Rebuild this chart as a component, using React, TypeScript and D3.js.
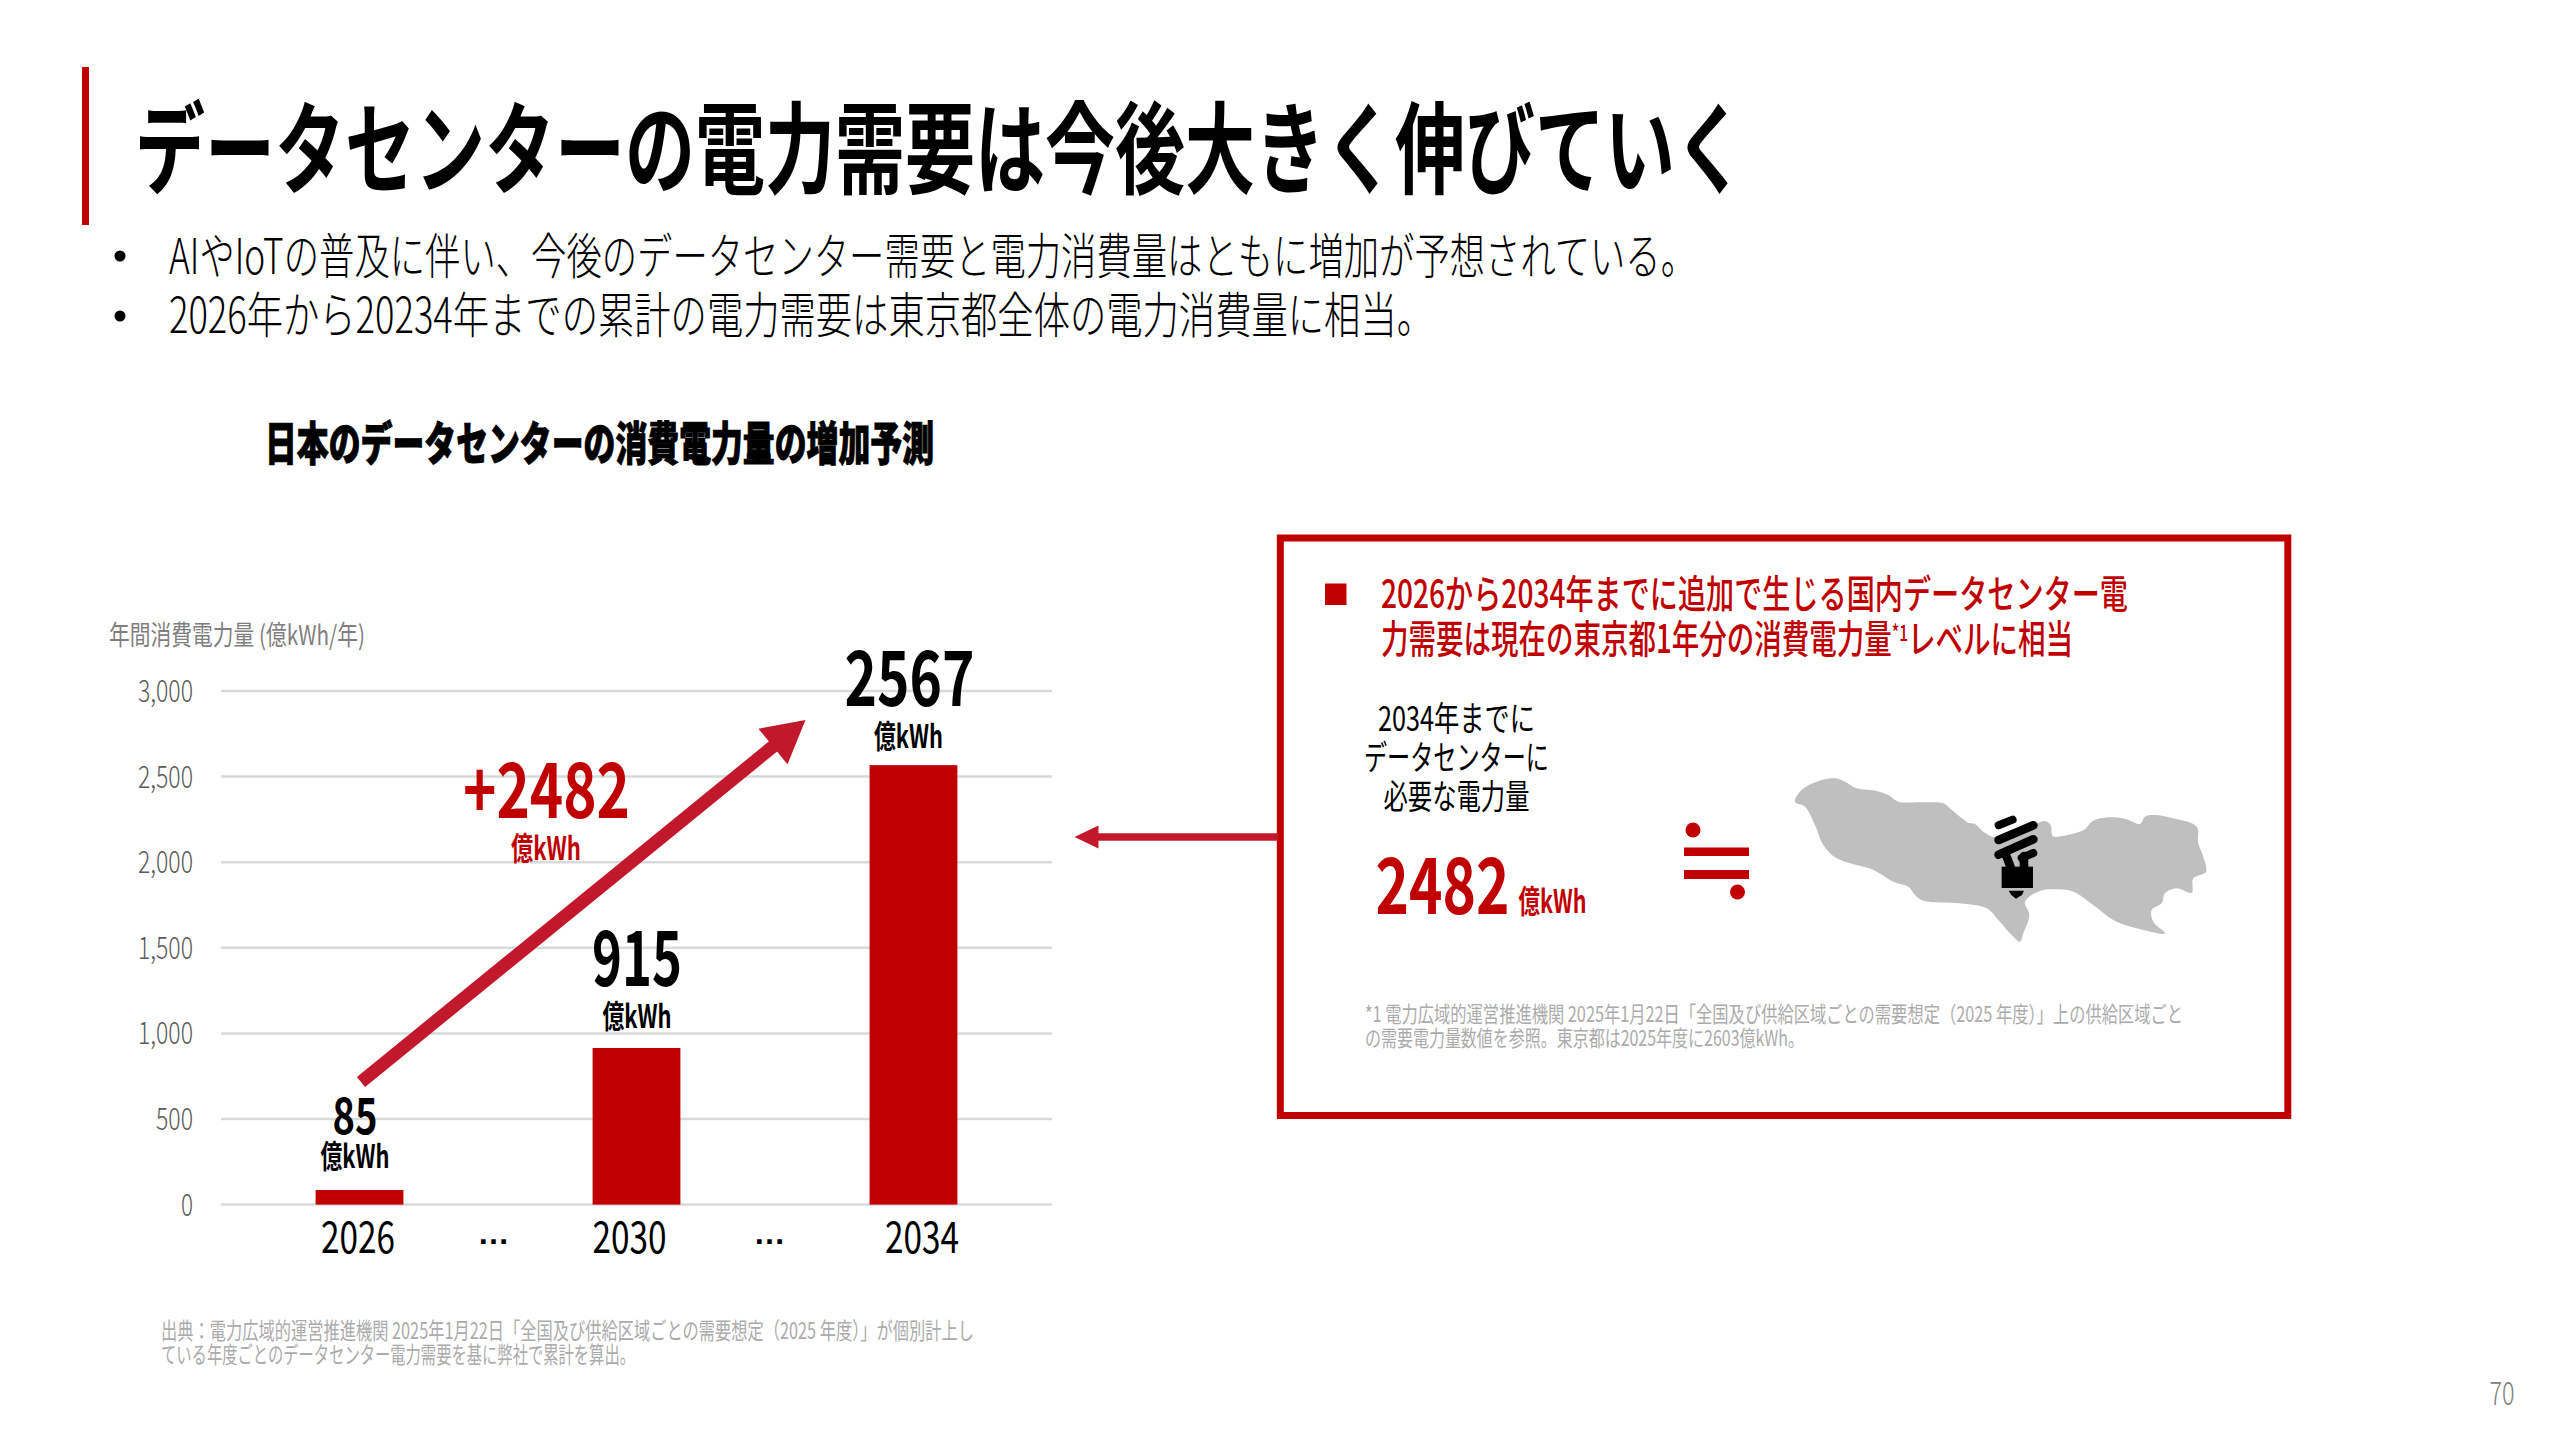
import React from "react";
import * as d3 from "d3";

const years = ["2026", "2030", "2034"];
const demand = [85, 915, 2567];
const yTicks = [0, 500, 1000, 1500, 2000, 2500, 3000];
const yearLabelX = [358, 629.5, 922];
const valueLabelMeta = [
  { cx: 355, w: 45, size: 50, base: 1134, unitCx: 355, unitBase: 1168 },
  { cx: 637, w: 90, size: 76, base: 986, unitCx: 637, unitBase: 1028 },
  { cx: 909.5, w: 130, size: 76, base: 706, unitCx: 908.5, unitBase: 748 },
];
const titleText = "データセンターの電力需要は今後大きく伸びていく";
const bullets = [
  "AIやIoTの普及に伴い、今後のデータセンター需要と電力消費量はともに増加が予想されている。",
  "2026年から20234年までの累計の電力需要は東京都全体の電力消費量に相当。",
];
const chartTitle = "日本のデータセンターの消費電力量の増加予測";
const axisTitle = "年間消費電力量 (億kWh/年)";
const unit = "億kWh";
const increase = "+2482";
const sourceLines = [
  "出典：電力広域的運営推進機関 2025年1月22日「全国及び供給区域ごとの需要想定（2025 年度）」が個別計上し",
  "ている年度ごとのデータセンター電力需要を基に弊社で累計を算出。",
];
const boxNoteLines = [
  "*1 電力広域的運営推進機関 2025年1月22日「全国及び供給区域ごとの需要想定（2025 年度）」上の供給区域ごと",
  "の需要電力量数値を参照。東京都は2025年度に2603億kWh。",
];
const tokyoOutline: [number, number][] = [
  [105,125],[125,90],[170,65],[225,55],[255,65],[290,85],[345,92],[385,105],[415,125],[480,127],[550,130],[575,150],[610,178],[625,188],[645,192],[670,215],[705,232],[760,215],[830,190],[855,183],[872,195],[878,228],[895,230],[975,208],[990,190],[1010,178],[1060,172],[1100,178],[1140,192],[1155,170],[1180,165],[1240,175],[1310,200],[1315,250],[1330,290],[1338,335],[1300,355],[1295,398],[1250,385],[1215,400],[1205,430],[1175,450],[1180,485],[1215,520],[1130,505],[1060,480],[1000,435],[940,395],[890,388],[840,393],[795,425],[808,465],[790,520],[780,545],[755,525],[715,480],[680,445],[600,430],[490,422],[465,405],[445,380],[400,365],[340,330],[230,295],[190,255],[165,195],[135,140],
];

const RED = "#c00000";
const ARROW = "#c2182b";
const NOTE = "#ababab";
const FONT = "'Noto Sans CJK JP', sans-serif";

type TP = {
  x: number; y: number; w: number; size: number; fill?: string; weight?: number;
  anchor?: "start" | "middle" | "end"; stroke?: number; children: React.ReactNode;
};
function T({ x, y, w, size, fill = "#000", weight = 400, anchor = "start", stroke = 0, children }: TP) {
  return (
    <text x={x} y={y} fontSize={size} fontFamily={FONT} fontWeight={weight} fill={fill} textAnchor={anchor}
      textLength={w} lengthAdjust="spacingAndGlyphs"
      stroke={stroke ? fill : undefined} strokeWidth={stroke || undefined}>
      {children}
    </text>
  );
}

function Arrow({ x1, y1, x2, y2, width, headLen, headWidth }: { x1: number; y1: number; x2: number; y2: number; width: number; headLen: number; headWidth: number }) {
  const a = Math.atan2(y2 - y1, x2 - x1);
  const ux = Math.cos(a), uy = Math.sin(a);
  const bx = x2 - ux * headLen, by = y2 - uy * headLen;
  const head = [[x2, y2], [bx - uy * headWidth / 2, by + ux * headWidth / 2], [bx + uy * headWidth / 2, by - ux * headWidth / 2]];
  return (
    <g fill={ARROW}>
      <line x1={x1} y1={y1} x2={bx + ux} y2={by + uy} stroke={ARROW} strokeWidth={width} />
      <polygon points={head.map((p) => p.join(",")).join(" ")} />
    </g>
  );
}

export default function App() {
  const x = d3.scaleBand<string>().domain(years).range([221, 1052]).paddingInner(0.683).paddingOuter(0.3415);
  const y = d3.scaleLinear().domain([0, 3000]).range([1204.6, 691]);
  const fmt = d3.format(",");
  const outline = d3.line().curve(d3.curveCatmullRomClosed.alpha(0.5))(tokyoOutline) || "";

  return (
    <svg width={2560} height={1440} viewBox="0 0 2560 1440"
      style={{ position: "absolute", left: 0, top: 0, display: "block", background: "#fff" }}>
      <rect x={0} y={0} width={2560} height={1440} fill="#fff" />
      <rect x={82} y={67} width={7} height={158} fill={RED} />
      <T x={135} y={186} w={1610} size={100} weight={700}>{titleText}</T>

      <circle cx={120} cy={256} r={5.5} fill="#000" />
      <circle cx={120} cy={316} r={5.5} fill="#000" />
      <T x={169} y={274} w={1527} size={49} weight={300}>{bullets[0]}</T>
      <T x={169} y={333} w={1264} size={49} weight={300}>{bullets[1]}</T>

      <T x={265} y={460} w={669} size={46} weight={900} stroke={1}>{chartTitle}</T>

      <T x={109} y={645} w={256} size={27} fill="#7f7f7f">{axisTitle}</T>

      {yTicks.map((t) => {
        const s = fmt(t);
        return (
          <g key={t}>
            <line x1={221} x2={1052} y1={y(t)} y2={y(t)} stroke="#d9d9d9" strokeWidth={2.5} />
            <T x={193} y={y(t) + 11} w={s.length === 5 ? 55 : s.length === 3 ? 37 : 12} size={31} weight={300} anchor="end" fill="#595959">{s}</T>
          </g>
        );
      })}

      {years.map((yr, i) => (
        <rect key={yr} x={x(yr)} y={y(demand[i])} width={x.bandwidth()} height={y(0) - y(demand[i])} fill={RED} />
      ))}

      {years.map((yr, i) => {
        const m = valueLabelMeta[i];
        return (
          <g key={yr}>
            <T x={m.cx} y={m.base} w={m.w} size={m.size} weight={700} anchor="middle">{String(demand[i])}</T>
            <T x={m.unitCx} y={m.unitBase} w={69} size={32} weight={700} anchor="middle">{unit}</T>
            <T x={yearLabelX[i]} y={1253} w={74} size={44} anchor="middle">{yr}</T>
          </g>
        );
      })}
      {[493.5, 769.5].map((cx) => (
        <text key={cx} x={cx} y={1244} fontFamily="'Liberation Sans', sans-serif" fontWeight={700} fontSize={32} textAnchor="middle" fill="#000">…</text>
      ))}

      <Arrow x1={361} y1={1082} x2={805.5} y2={720} width={13} headLen={42} headWidth={46} />
      <T x={546.5} y={818} w={167} size={76} weight={700} fill={RED} anchor="middle">{increase}</T>
      <T x={546} y={860} w={70} size={32} weight={700} fill={RED} anchor="middle">{unit}</T>

      <T x={161} y={1339} w={813} size={23} fill={NOTE}>{sourceLines[0]}</T>
      <T x={161} y={1363} w={474} size={23} fill={NOTE}>{sourceLines[1]}</T>

      <rect x={1280.3} y={538} width={1007.5} height={577.5} fill="#fff" stroke={RED} strokeWidth={7} />
      <Arrow x1={1278} y1={837} x2={1074.5} y2={837} width={7.5} headLen={24} headWidth={23} />

      <rect x={1325} y={583.5} width={21.5} height={21.5} fill={RED} />
      <T x={1381} y={608} w={747} size={39} weight={500} fill={RED}>2026から2034年までに追加で生じる国内データセンター電</T>
      <T x={1381} y={653} w={692} size={39} weight={500} fill={RED}>
        力需要は現在の東京都1年分の消費電力量<tspan fontSize={22} dy={-12}>*1</tspan><tspan dy={12}>レベルに相当</tspan>
      </T>

      <T x={1456.5} y={731} w={157} size={34} anchor="middle">2034年までに</T>
      <T x={1456.5} y={770} w={185} size={34} anchor="middle">データセンターに</T>
      <T x={1456.5} y={809} w={146} size={34} anchor="middle">必要な電力量</T>

      <T x={1375.5} y={914} w={134} size={78} weight={700} fill={RED}>2482</T>
      <T x={1518.5} y={913} w={68} size={32} weight={700} fill={RED}>{unit}</T>

      <circle cx={1693} cy={830} r={7.5} fill={RED} />
      <rect x={1684} y={847.5} width={65} height={8.5} fill={RED} />
      <rect x={1684} y={870} width={65} height={9} fill={RED} />
      <circle cx={1737.5} cy={892} r={7.5} fill={RED} />

      <g transform="translate(1760,760) scale(0.3333)">
        <path d={outline} fill="#bfbfbf" />
        <g stroke="#000" fill="none" strokeLinecap="round">
          <line x1={716} y1={196} x2={758} y2={179} strokeWidth={24} />
          <line x1={716} y1={240} x2={820} y2={196} strokeWidth={26} />
          <line x1={716} y1={284} x2={820} y2={238} strokeWidth={26} />
          <line x1={785} y1={294} x2={820} y2={279} strokeWidth={24} />
          <line x1={738} y1={285} x2={752} y2={322} strokeWidth={26} />
          <line x1={792} y1={288} x2={792} y2={325} strokeWidth={26} />
        </g>
        <rect x={725} y={320} width={94} height={64} fill="#000" />
        <polygon points="746,392 792,392 786,405 768,416 754,405" fill="#000" />
      </g>

      <T x={1365} y={1022} w={818} size={22} fill={NOTE}>{boxNoteLines[0]}</T>
      <T x={1365} y={1046} w={439} size={22} fill={NOTE}>{boxNoteLines[1]}</T>

      <T x={2489.5} y={1405} w={25} size={33} weight={300} fill="#808080">70</T>
    </svg>
  );
}
